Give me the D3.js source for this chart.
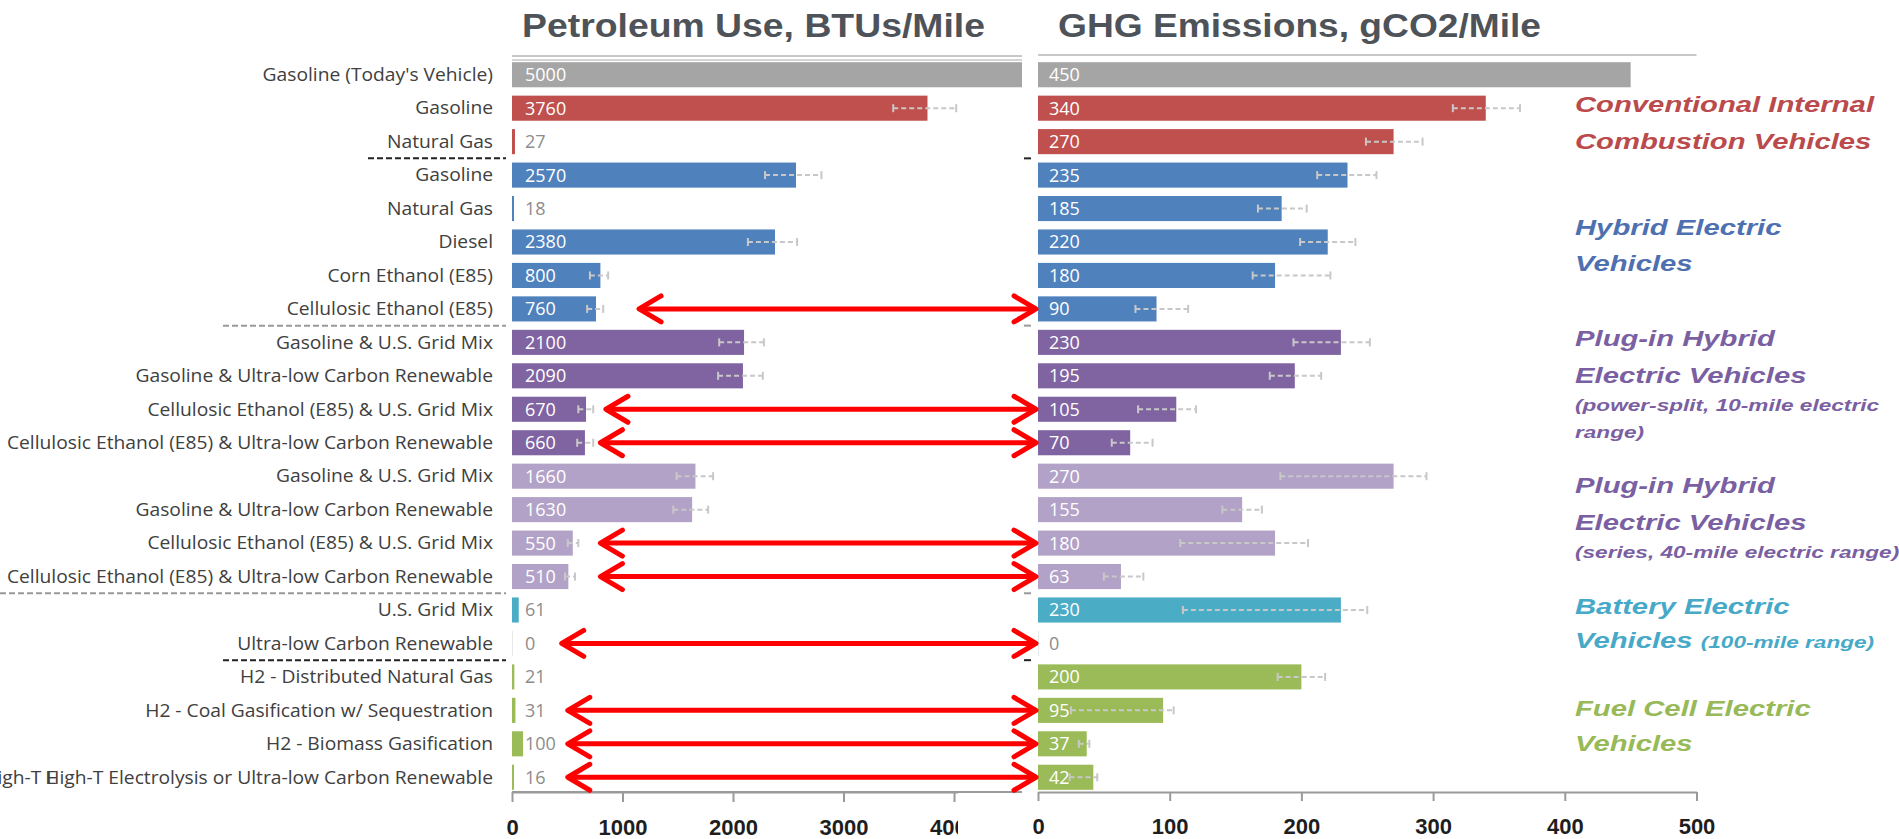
<!DOCTYPE html>
<html>
<head>
<meta charset="utf-8">
<script src="https://cdn.jsdelivr.net/npm/d3@7"></script>
<style>
  body { margin: 0; background: #fff; }
  svg { display: block; }
</style>
</head>
<body>
<svg id="chart" width="1899" height="839"></svg>
<script>
// les rangées, de haut en bas
var categories = [
  "Gasoline (Today's Vehicle)",
  "Gasoline", "Natural Gas",
  "Gasoline", "Natural Gas", "Diesel", "Corn Ethanol (E85)", "Cellulosic Ethanol (E85)",
  "Gasoline & U.S. Grid Mix", "Gasoline & Ultra-low Carbon Renewable",
  "Cellulosic Ethanol (E85) & U.S. Grid Mix", "Cellulosic Ethanol (E85) & Ultra-low Carbon Renewable",
  "Gasoline & U.S. Grid Mix", "Gasoline & Ultra-low Carbon Renewable",
  "Cellulosic Ethanol (E85) & U.S. Grid Mix", "Cellulosic Ethanol (E85) & Ultra-low Carbon Renewable",
  "U.S. Grid Mix", "Ultra-low Carbon Renewable",
  "H2 - Distributed Natural Gas", "H2 - Coal Gasification w/ Sequestration",
  "H2 - Biomass Gasification", "High-T Electrolysis or Ultra-low Carbon Renewable"
];
// groupe de véhicule pour chaque rangée
var rowGroup = [0, 1, 1, 2, 2, 2, 2, 2, 3, 3, 3, 3, 4, 4, 4, 4, 5, 5, 6, 6, 6, 6];

// Petroleum use, BTUs/mile
var petroleum = [5000, 3760, 27, 2570, 18, 2380, 800, 760, 2100, 2090, 670, 660,
  1660, 1630, 550, 510, 61, 0, 21, 31, 100, 16];
var petroleumLow = [null, 3450, null, 2290, null, 2135, 705, 680, 1875, 1865, 600, 590,
  1490, 1460, 505, 480, null, null, null, null, null, null];
var petroleumHigh = [null, 4020, null, 2800, null, 2580, 870, 825, 2280, 2270, 735, 735,
  1820, 1775, 600, 570, null, null, null, null, null, null];

// GHG emissions, gCO2/mile
var ghg = [450, 340, 270, 235, 185, 220, 180, 90, 230, 195, 105, 70,
  270, 155, 180, 63, 230, 0, 200, 95, 37, 42];
var ghgLow = [null, 315, 249, 212, 167, 199, 163, 74, 194, 176, 76, 56,
  184, 140, 108, 50, 110, null, 182, 25, 31, 24];
var ghgHigh = [null, 366, 292, 257, 204, 241, 222, 114, 252, 215, 120, 87,
  295, 170, 205, 80, 250, null, 218, 103, 39, 45];

var petroleumTicks = [0, 1000, 2000, 3000, 4000];
var ghgTicks = [0, 100, 200, 300, 400, 500];

// lignes pointillées entre les groupes (après ces rangées)
var separatorRows = [2, 7, 15, 17];

// flèches rouges : rangée et départ (en BTUs/mile)
var arrowRows = [7, 10, 11, 14, 15, 17, 19, 20, 21];
var arrowStart = [1150, 850, 800, 800, 800, 450, 505, 505, 505];

// légende des groupes, à droite
var groupNotes = [
  {group: 1, lines: [["Conventional Internal"], ["Combustion Vehicles"]]},
  {group: 2, lines: [["Hybrid Electric"], ["Vehicles"]]},
  {group: 3, lines: [["Plug-in Hybrid"], ["Electric Vehicles"], ["", "(power-split, 10-mile electric"], ["", "range)"]]},
  {group: 4, lines: [["Plug-in Hybrid"], ["Electric Vehicles"], ["", "(series, 40-mile electric range)"]]},
  {group: 5, lines: [["Battery Electric"], ["Vehicles ", "(100-mile range)"]]},
  {group: 6, lines: [["Fuel Cell Electric"], ["Vehicles"]]}
];

var barColors = ["#a5a5a5", "#c0504d", "#4f81bd", "#8064a2", "#b3a2c7", "#4bacc6", "#9bbb59"];
var noteColors = ["#888", "#bb4a4c", "#4e70b0", "#7a5fa2", "#7a5fa2", "#47a9c8", "#98b957"];
var noteBaselines = [[112, 149], [235, 271], [346, 383, 411, 438], [493, 530, 558], [614, 648], [716, 751]];

var svg = d3.select("#chart");
var defs = svg.append("defs");
defs.append("clipPath").attr("id", "clipLeft")
  .append("rect").attr("x", 0).attr("y", 0).attr("width", 1022).attr("height", 839);
defs.append("clipPath").attr("id", "clipLeftTicks")
  .append("rect").attr("x", 0).attr("y", 0).attr("width", 958).attr("height", 839);

var rows = d3.range(categories.length);
var y = d3.scaleBand().domain(rows).range([58, 794]).paddingInner(0.25).paddingOuter(0.125);
var bw = y.bandwidth();
var yc = i => y(i) + bw / 2;

var xL = d3.scaleLinear().domain([0, 5000]).range([512, 1064.5]);
var xR = d3.scaleLinear().domain([0, 500]).range([1038, 1696.5]);

// titres
svg.append("text")
  .attr("x", 522).attr("y", 37)
  .attr("font-family", "Liberation Sans, Arial, sans-serif")
  .attr("font-weight", "bold").attr("font-size", 33)
  .attr("fill", "#4e5359")
  .attr("textLength", 463).attr("lengthAdjust", "spacingAndGlyphs")
  .text("Petroleum Use, BTUs/Mile");
svg.append("text")
  .attr("x", 1058).attr("y", 37)
  .attr("font-family", "Liberation Sans, Arial, sans-serif")
  .attr("font-weight", "bold").attr("font-size", 33)
  .attr("fill", "#4e5359")
  .attr("textLength", 483).attr("lengthAdjust", "spacingAndGlyphs")
  .text("GHG Emissions, gCO2/Mile");

// dessine un panneau de barres
function panel(g, x, values, low, high, labelPad) {
  var x0 = x(0);
  g.selectAll("rect.bar")
    .data(rows)
    .join("rect")
    .attr("class", "bar")
    .attr("x", x0)
    .attr("y", i => y(i))
    .attr("width", i => Math.max(x(values[i]) - x0, values[i] > 0 ? 2 : 1))
    .attr("height", bw)
    .attr("fill", i => values[i] > 0 ? barColors[rowGroup[i]] : "#e8e8e8");

  // barres d'erreur pointillées
  var err = g.append("g")
    .attr("stroke", "#c8c8c8").attr("stroke-width", 2).attr("fill", "none");
  rows.filter(i => low[i] != null).forEach(i => {
    var a = x(low[i]), b = x(high[i]), c = yc(i);
    err.append("line").attr("x1", a).attr("x2", b).attr("y1", c).attr("y2", c)
      .attr("stroke-dasharray", "5,3");
    err.append("line").attr("x1", a).attr("x2", a).attr("y1", c - 4).attr("y2", c + 4);
    err.append("line").attr("x1", b).attr("x2", b).attr("y1", c - 4).attr("y2", c + 4);
  });

  g.selectAll("text.val")
    .data(rows)
    .join("text")
    .attr("class", "val")
    .attr("x", x0 + labelPad)
    .attr("y", i => yc(i))
    .attr("dy", "0.36em")
    .attr("font-family", "Open Sans, sans-serif")
    .attr("font-size", 18)
    .attr("fill", i => (x(values[i]) - x0) > 30 ? "#ffffff" : "#8c8c8c")
    .text(i => values[i]);
}

var left = svg.append("g").attr("clip-path", "url(#clipLeft)");
panel(left, xL, petroleum, petroleumLow, petroleumHigh, 13);
var right = svg.append("g");
panel(right, xR, ghg, ghgLow, ghgHigh, 11);

// lignes du haut
left.append("line").attr("x1", 512).attr("x2", 1022).attr("y1", 56).attr("y2", 56)
  .attr("stroke", "#c8c8c8").attr("stroke-width", 2);
left.append("line").attr("x1", 512).attr("x2", 1022).attr("y1", 60).attr("y2", 60)
  .attr("stroke", "#d4d4d4").attr("stroke-width", 2);
right.append("line").attr("x1", xR(0)).attr("x2", xR(500)).attr("y1", 55).attr("y2", 55)
  .attr("stroke", "#c8c8c8").attr("stroke-width", 2);

// axes du bas
function styleAxis(g) {
  g.select(".domain").attr("stroke", "#9a9a9a").attr("stroke-width", 2);
  g.selectAll(".tick line").attr("stroke", "#9a9a9a").attr("stroke-width", 2);
  g.selectAll(".tick text")
    .attr("font-family", "Liberation Sans, Arial, sans-serif")
    .attr("font-weight", "bold").attr("font-size", 22).attr("fill", "#1e1e1e");
}
// l'axe de gauche est coupé (le « 4000 » devient « 40( »)
left.append("g").attr("transform", "translate(0,792)")
  .attr("clip-path", "url(#clipLeftTicks)")
  .call(d3.axisBottom(xL).tickValues(petroleumTicks).tickSize(10).tickSizeOuter(0).tickPadding(17).tickFormat(d3.format("d")))
  .call(styleAxis);
left.append("line").attr("x1", 512).attr("x2", 1022).attr("y1", 792).attr("y2", 792)
  .attr("stroke", "#9a9a9a").attr("stroke-width", 2);

right.append("g").attr("transform", "translate(0,792)")
  .call(d3.axisBottom(xR).tickValues(ghgTicks).tickSize(9).tickSizeOuter(0).tickPadding(17).tickFormat(d3.format("d")))
  .call(styleAxis);

// étiquettes des catégories (un peu étirées comme l'image d'origine)
var labScale = 1.1;
var labels = svg.append("g")
  .attr("transform", `translate(493,0) scale(${labScale},1)`)
  .attr("font-family", "Open Sans, sans-serif")
  .attr("font-size", 17.5)
  .attr("fill", "#404040")
  .attr("text-anchor", "end");
labels.selectAll("text")
  .data(rows)
  .join("text")
  .attr("x", 0)
  .attr("y", i => yc(i))
  .attr("dy", "0.36em")
  .text(i => categories[i]);
// morceau d'étiquette coupé, comme dans l'original
labels.append("text")
  .attr("x", (57 - 493) / labScale).attr("y", yc(21)).attr("dy", "0.36em")
  .text("High-T E");

// séparateurs pointillés
var sepFrom = [368, 223, 0, 223];
var sepColor = ["#222", "#999", "#999", "#222"];
separatorRows.forEach((r, k) => {
  var yy = (yc(r) + yc(r + 1)) / 2;
  svg.append("line").attr("x1", sepFrom[k]).attr("x2", 506).attr("y1", yy).attr("y2", yy)
    .attr("stroke", sepColor[k]).attr("stroke-width", 2).attr("stroke-dasharray", "6,3");
  svg.append("line").attr("x1", 1024).attr("x2", 1031).attr("y1", yy).attr("y2", yy)
    .attr("stroke", sepColor[k]).attr("stroke-width", 2);
});

// flèches rouges
var arrows = svg.append("g")
  .attr("stroke", "#ff0000").attr("stroke-width", 5).attr("fill", "none")
  .attr("stroke-linecap", "round").attr("stroke-linejoin", "round");
arrowRows.forEach((r, k) => {
  var a = xL(arrowStart[k]), b = xR(0) - 2, c = yc(r);
  arrows.append("line").attr("x1", a + 2).attr("x2", b - 2).attr("y1", c).attr("y2", c);
  arrows.append("path").attr("d", `M${a + 22},${c - 13}L${a},${c}L${a + 22},${c + 13}`);
  arrows.append("path").attr("d", `M${b - 22},${c - 13}L${b},${c}L${b - 22},${c + 13}`);
});

// notes de groupe à droite
var notes = svg.append("g")
  .attr("transform", "translate(1575,0) scale(1.33,1)")
  .attr("font-family", "Liberation Sans, Arial, sans-serif")
  .attr("font-weight", "bold").attr("font-style", "italic");
groupNotes.forEach((n, k) => {
  n.lines.forEach((ln, j) => {
    var t = notes.append("text").attr("x", 0).attr("y", noteBaselines[k][j])
      .attr("fill", noteColors[n.group]);
    if (ln[0]) t.append("tspan").attr("font-size", 22).text(ln[0]);
    if (ln[1]) t.append("tspan").attr("font-size", 17).text(ln[1]);
  });
});
</script>
</body>
</html>
